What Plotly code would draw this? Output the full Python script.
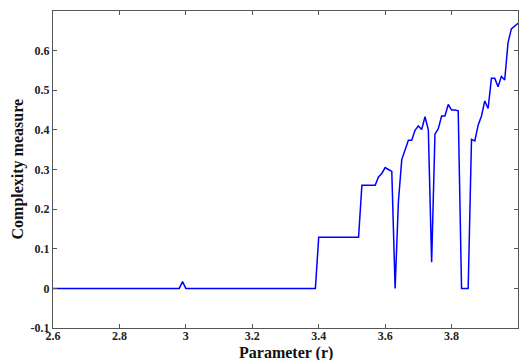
import plotly.graph_objects as go

# Parameter values r where the complexity curve changes, and the measure at each
r_values = [2.60, 2.98, 2.99, 3.00, 3.39, 3.40, 3.52, 3.53, 3.57, 3.58, 3.59, 3.60,
            3.61, 3.62, 3.63, 3.64, 3.65, 3.66, 3.67, 3.68, 3.69, 3.70, 3.71, 3.72,
            3.73, 3.74, 3.75, 3.76, 3.77, 3.78, 3.79, 3.80, 3.81, 3.82, 3.83, 3.84,
            3.85, 3.86, 3.87, 3.88, 3.89, 3.90, 3.91, 3.92, 3.93, 3.94, 3.95, 3.96,
            3.97, 3.98, 3.99, 4.00]
complexity = [0.0, 0.0, 0.017, 0.0, 0.0, 0.129, 0.129, 0.26, 0.26, 0.281, 0.29, 0.305,
              0.30, 0.295, 0.0, 0.22, 0.325, 0.347, 0.374, 0.374, 0.399, 0.41, 0.401, 0.433,
              0.40, 0.066, 0.389, 0.403, 0.435, 0.435, 0.464, 0.45, 0.45, 0.448, 0.0, 0.0,
              0.0, 0.376, 0.372, 0.412, 0.435, 0.473, 0.454, 0.53, 0.53, 0.509, 0.535, 0.526,
              0.62, 0.655, 0.663, 0.669]

x_ticks = [2.6, 2.8, 3.0, 3.2, 3.4, 3.6, 3.8, 4.0]
x_tick_text = ["2.6", "2.8", "3", "3.2", "3.4", "3.6", "3.8", "4"]
y_ticks = [-0.1, 0, 0.1, 0.2, 0.3, 0.4, 0.5, 0.6]
y_tick_text = ["-0.1", "0", "0.1", "0.2", "0.3", "0.4", "0.5", "0.6"]

serif = "Liberation Serif, Times New Roman, serif"

fig = go.Figure()
fig.add_trace(go.Scatter(
    x=r_values, y=complexity, mode="lines",
    line=dict(color="#0000ff", width=1.5),
    showlegend=False,
))

axis_common = dict(
    showgrid=False, zeroline=False,
    showline=True, linecolor="#555555", linewidth=1, mirror="ticks",
    ticks="inside", ticklen=4, tickcolor="#555555", tickwidth=1,
    tickfont=dict(family=serif, size=12, color="#222222", weight="bold"),
)

fig.update_layout(
    width=519, height=360,
    margin=dict(l=53, r=1, t=11, b=32),
    paper_bgcolor="white", plot_bgcolor="white",
    xaxis=dict(range=[2.6, 4.0], tickvals=x_ticks, ticktext=x_tick_text,
               ticklabelstandoff=-3, **axis_common),
    yaxis=dict(range=[-0.1, 0.7], tickvals=y_ticks, ticktext=y_tick_text, **axis_common),
    annotations=[
        dict(text="Parameter (r)", xref="paper", yref="paper", x=0.5, y=0,
             xanchor="center", yanchor="middle", yshift=-25, showarrow=False,
             font=dict(family=serif, size=16, color="#111111", weight="bold")),
        dict(text="Complexity measure", xref="paper", yref="paper", x=0, y=0.5,
             xanchor="center", yanchor="middle", xshift=-36, textangle=-90,
             showarrow=False,
             font=dict(family=serif, size=16, color="#111111", weight="bold")),
    ],
)

fig.write_html("out.html")
